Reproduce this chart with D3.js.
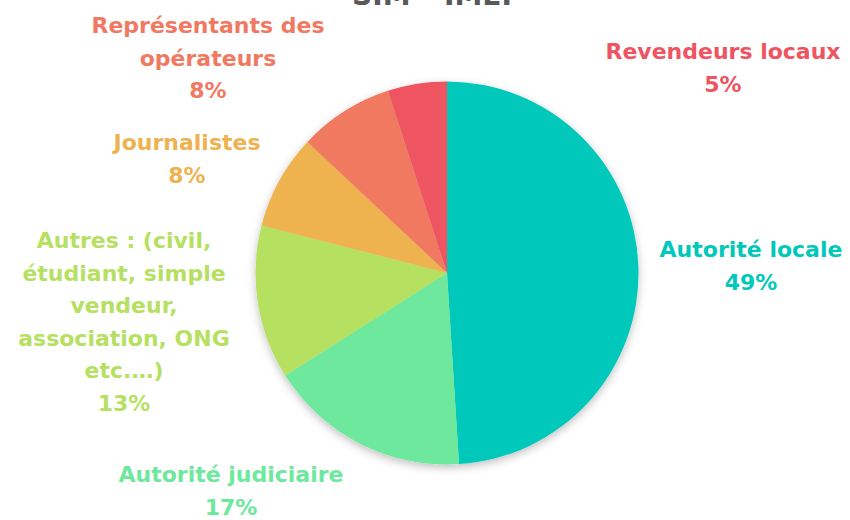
<!DOCTYPE html>
<html>
<head>
<meta charset="utf-8">
<script src="https://cdn.jsdelivr.net/npm/d3@7"></script>
<style>
  body { margin: 0; background: #fff; }
  svg text { font-family: "DejaVu Sans", sans-serif; font-weight: bold; }
</style>
</head>
<body>
<svg width="850" height="520"></svg>
<script>
const categories = ["Autorité locale", "Autorité judiciaire", "Autres : (civil, étudiant, simple vendeur, association, ONG etc.…)", "Journalistes", "Représentants des opérateurs", "Revendeurs locaux"];
const values = [49, 17, 13, 8, 8, 5];
const colors = ["#00C8BB", "#6DE89D", "#B6E061", "#EEB250", "#F07961", "#EE5461"];
// label lines as PowerPoint wrapped them
const labelLines = [
  ["Autorité locale"],
  ["Autorité judiciaire"],
  ["Autres : (civil,", "étudiant, simple", "vendeur,", "association, ONG", "etc.…)"],
  ["Journalistes"],
  ["Représentants des", "opérateurs"],
  ["Revendeurs locaux"]
];
// first baseline of each label block
const labelAnchor = [[751, 257], [231, 482], [124, 248], [187, 150], [208, 33], [723, 59]];
const title = "SIM – IMEI";

const svg = d3.select("svg");
const cx = 447, cy = 273, radius = 191.5;
const lineH = 32.5;

const defs = svg.append("defs");
const shadow = defs.append("filter").attr("id", "shadow")
  .attr("x", "-20%").attr("y", "-20%").attr("width", "140%").attr("height", "140%");
shadow.append("feDropShadow")
  .attr("dx", 0).attr("dy", 3).attr("stdDeviation", 4)
  .attr("flood-color", "#000").attr("flood-opacity", 0.25);

// title sits mostly above the visible area, as in the slide
svg.append("text")
  .attr("x", 432).attr("y", 5)
  .attr("text-anchor", "middle")
  .attr("font-size", 28)
  .attr("fill", "#595959")
  .text(title);

const pie = d3.pie().sort(null).value(d => d)(values);
const arc = d3.arc().innerRadius(0).outerRadius(radius);

const g = svg.append("g").attr("transform", `translate(${cx},${cy})`);
g.append("g").attr("filter", "url(#shadow)")
  .selectAll("path")
  .data(pie)
  .join("path")
    .attr("d", arc)
    .attr("fill", (d, i) => colors[i]);

const labels = svg.append("g").selectAll("text")
  .data(pie)
  .join("text")
    .attr("text-anchor", "middle")
    .attr("font-size", 22)
    .attr("fill", (d, i) => colors[i]);

labels.each(function(d, i) {
  const t = d3.select(this);
  const lines = labelLines[i].concat([Math.round(d.data) + "%"]);
  lines.forEach((s, k) => {
    t.append("tspan")
      .attr("x", labelAnchor[i][0])
      .attr("y", labelAnchor[i][1] + k * lineH)
      .text(s);
  });
});
</script>
</body>
</html>
